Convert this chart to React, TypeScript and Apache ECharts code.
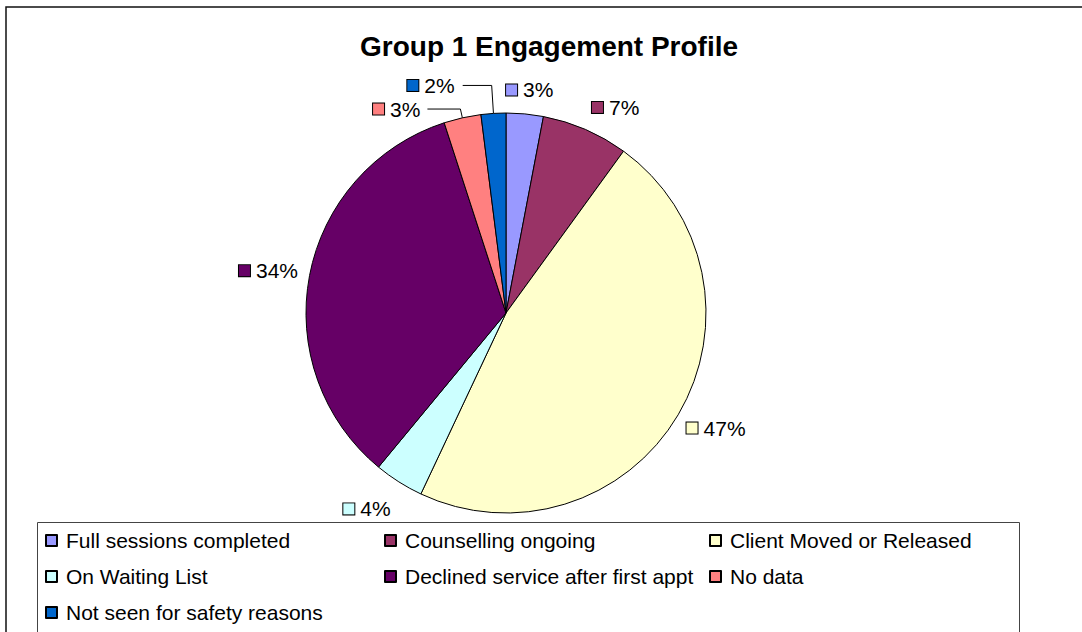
import React, { useEffect, useRef } from "react";
import * as echarts from "echarts";

const categories = [
  "Full sessions completed",
  "Counselling ongoing",
  "Client Moved or Released",
  "On Waiting List",
  "Declined service after first appt",
  "No data",
  "Not seen for safety reasons",
];
const values = [3, 7, 47, 4, 34, 3, 2];
const colors = ["#9999FF", "#993366", "#FFFFCC", "#CCFFFF", "#660066", "#FF8080", "#0066CC"];
const legendColumns = [
  [categories[0], categories[3], categories[6]],
  [categories[1], categories[4]],
  [categories[2], categories[5]],
];

// label placement tweaks (length, length2, distance, showLine)
const labelTweaks = [
  { len: 24, len2: 0, dist: -21, line: false },
  { len: 24, len2: 0, dist: -3, line: false },
  { len: 26, len2: 0, dist: -14, line: false },
  { len: 32, len2: 0, dist: -9, line: false },
  { len: 26, len2: 0, dist: -14, line: false },
  { len: 9, len2: 33, dist: 7, line: true },
  { len: 28, len2: 29, dist: 8, line: true },
];

const FONT = "'Liberation Sans', Arial, Helvetica, sans-serif";

export default function App() {
  const ref = useRef<HTMLDivElement>(null);
  useEffect(() => {
    if (!ref.current) return;
    const chart = echarts.init(ref.current, null, { renderer: "svg" });
    const rich: Record<string, any> = {
      t: { fontSize: 21, fontFamily: FONT, color: "#000", padding: [0, 0, 0, 6] },
    };
    colors.forEach((c, i) => {
      rich["b" + i] = { width: 11, height: 11, backgroundColor: c, borderColor: "#000", borderWidth: 1 };
    });
    const legendLefts = [45, 384, 709];
    chart.setOption({
      animation: false,
      color: colors,
      title: {
        text: "Group 1 Engagement Profile",
        left: 360,
        top: 32,
        padding: 0,
        textStyle: { fontFamily: FONT, fontWeight: "bold", fontSize: 28, color: "#000" },
      },
      legend: legendColumns.map((cols, k) => ({
        data: cols,
        orient: "vertical",
        left: legendLefts[k],
        top: 530,
        padding: 0,
        icon: "rect",
        itemWidth: 11,
        itemHeight: 11,
        itemGap: 15,
        selectedMode: false,
        textStyle: { fontFamily: FONT, fontSize: 21, color: "#000", padding: [0, 0, 0, 4] },
      })),
      graphic: [
        {
          type: "rect",
          shape: { x: 6, y: 7, width: 2000, height: 2000 },
          style: { fill: "none", stroke: "#111", lineWidth: 1.5 },
          silent: true,
        },
        {
          type: "rect",
          shape: { x: 37.5, y: 522.5, width: 982, height: 300 },
          style: { fill: "none", stroke: "#444", lineWidth: 1 },
          silent: true,
        },
      ],
      series: [
        {
          type: "pie",
          center: [506, 313],
          radius: 200,
          startAngle: 90,
          clockwise: true,
          avoidLabelOverlap: false,
          emphasis: { disabled: true },
          itemStyle: { borderColor: "#000", borderWidth: 1 },
          label: {
            show: true,
            position: "outside",
            formatter: (p: any) => `{b${p.dataIndex}|}{t|${Math.round(p.percent)}%}`,
            rich,
          },
          labelLine: { show: false, smooth: false, lineStyle: { color: "#000", width: 1 } },
          data: categories.map((name, i) => ({
            name,
            value: values[i],
            label: { distanceToLabelLine: labelTweaks[i].dist },
            labelLine: {
              show: labelTweaks[i].line,
              length: labelTweaks[i].len,
              length2: labelTweaks[i].len2,
            },
          })),
        },
      ],
    });
    return () => chart.dispose();
  }, []);
  return (
    <div
      ref={ref}
      style={{ position: "fixed", left: 0, top: 0, width: 1082, height: 632, background: "#fff" }}
    />
  );
}
